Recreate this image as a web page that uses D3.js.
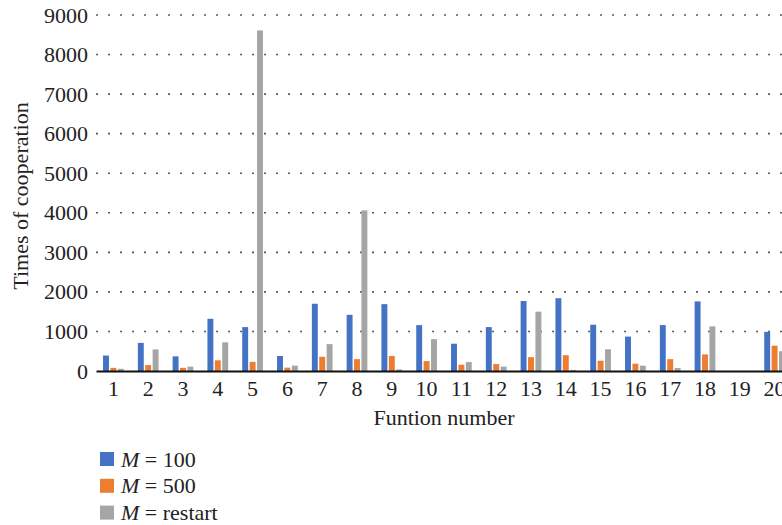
<!DOCTYPE html>
<html>
<head>
<meta charset="utf-8">
<script src="https://cdn.jsdelivr.net/npm/d3@7"></script>
<style>
  body { margin: 0; background: #fff; }
  text { font-family: "Liberation Serif", "DejaVu Serif", serif; fill: #222; }
</style>
</head>
<body>
<svg id="chart" width="782" height="525"></svg>
<script>
// function numbers 1..20
var categories = ['1','2','3','4','5','6','7','8','9','10','11','12','13','14','15','16','17','18','19','20'];
var seriesNames = ['100', '500', 'restart'];
var m100 = [390, 710, 370, 1320, 1110, 380, 1700, 1420, 1690, 1160, 690, 1110, 1770, 1840, 1170, 870, 1160, 1760, 0, 990];
var m500 = [80, 150, 80, 270, 230, 85, 360, 300, 380, 250, 160, 175, 350, 400, 260, 185, 300, 420, 0, 640];
var mRestart = [55, 545, 110, 725, 8610, 135, 680, 4060, 40, 805, 225, 110, 1500, 25, 550, 135, 75, 1130, 0, 500];
var yTicks = [0, 1000, 2000, 3000, 4000, 5000, 6000, 7000, 8000, 9000];
var colors = ['#4472C4', '#ED7D31', '#A5A5A5'];

var svg = d3.select('#chart');
var plotLeft = 96, plotRight = 792, plotTop = 15, plotBottom = 371;
var fontSize = '22px';

var x0 = d3.scaleBand()
  .domain(categories)
  .range([plotLeft, plotRight])
  .paddingInner(0);

var x1 = d3.scaleBand()
  .domain(seriesNames)
  .range([0, x0.bandwidth()])
  .paddingInner(0.2)
  .paddingOuter(0.95);

var y = d3.scaleLinear()
  .domain([0, 9000])
  .range([plotBottom, plotTop]);

// dotted gridlines
svg.append('g')
  .selectAll('line')
  .data(yTicks.slice(1))
  .enter()
  .append('line')
  .attr('x1', plotLeft)
  .attr('x2', 782)
  .attr('y1', function (d) { return y(d); })
  .attr('y2', function (d) { return y(d); })
  .attr('stroke', '#5a5a5a')
  .attr('stroke-width', 1.6)
  .attr('stroke-dasharray', '2,10');

// y tick labels (no axis line)
var yAxis = d3.axisLeft(y).tickValues(yTicks).tickFormat(d3.format('d')).tickSize(0).tickPadding(8);
var gy = svg.append('g')
  .attr('transform', 'translate(' + plotLeft + ',0)')
  .call(yAxis);
gy.select('.domain').remove();
gy.selectAll('text')
  .style('font-family', '"Liberation Serif", serif')
  .style('font-size', fontSize)
  .attr('fill', '#222');

// bars
var series = [m100, m500, mRestart];
var groups = svg.append('g')
  .selectAll('g')
  .data(categories)
  .enter()
  .append('g')
  .attr('transform', function (d) { return 'translate(' + x0(d) + ',0)'; });

groups.selectAll('rect')
  .data(function (d, i) {
    return seriesNames.map(function (s, j) { return { key: s, value: series[j][i], c: colors[j] }; });
  })
  .enter()
  .append('rect')
  .attr('x', function (d) { return x1(d.key); })
  .attr('width', x1.bandwidth())
  .attr('y', function (d) { return y(d.value); })
  .attr('height', function (d) { return y(0) - y(d.value); })
  .attr('fill', function (d) { return d.c; });

// x axis
var xAxis = d3.axisBottom(x0).tickSize(0).tickPadding(9);
var gx = svg.append('g')
  .attr('transform', 'translate(0,' + plotBottom + ')')
  .call(xAxis);
gx.select('.domain')
  .attr('stroke', '#111')
  .attr('stroke-width', 2.2);
gx.selectAll('text')
  .style('font-family', '"Liberation Serif", serif')
  .style('font-size', fontSize)
  .attr('fill', '#222');

// axis titles
svg.append('text')
  .attr('x', 444)
  .attr('y', 425)
  .attr('text-anchor', 'middle')
  .style('font-size', fontSize)
  .text('Funtion number');

svg.append('text')
  .attr('transform', 'translate(28,196) rotate(-90)')
  .attr('text-anchor', 'middle')
  .style('font-size', fontSize)
  .text('Times of cooperation');

// legend
var legend = svg.append('g')
  .selectAll('g')
  .data(seriesNames)
  .enter()
  .append('g')
  .attr('transform', function (d, i) { return 'translate(100,' + (452 + i * 26.8) + ')'; });

legend.append('rect')
  .attr('width', 14)
  .attr('height', 14)
  .attr('fill', function (d, i) { return colors[i]; });

var lt = legend.append('text')
  .attr('x', 21)
  .attr('y', 14.5)
  .style('font-size', fontSize);
lt.append('tspan').style('font-style', 'italic').text('M');
lt.append('tspan').text(function (d) { return ' = ' + d; });
</script>
</body>
</html>
